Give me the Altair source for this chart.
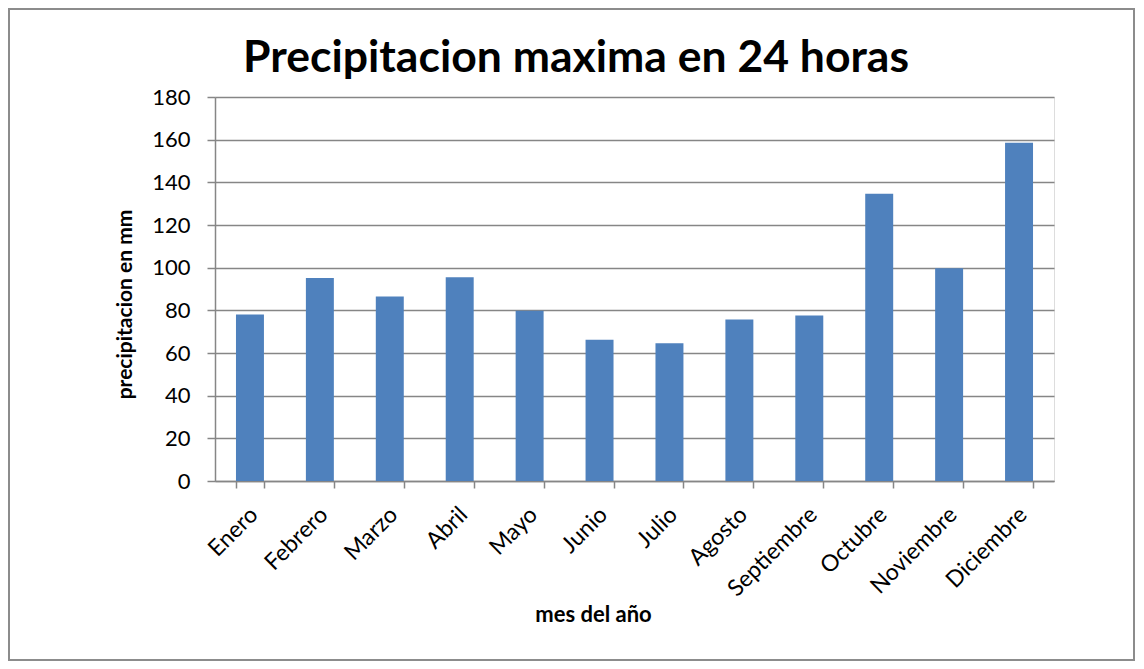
import altair as alt
import pandas as pd

meses = ["Enero", "Febrero", "Marzo", "Abril", "Mayo", "Junio", "Julio",
         "Agosto", "Septiembre", "Octubre", "Noviembre", "Diciembre"]
precip = [78.1, 95.1, 86.5, 95.5, 79.8, 66.2, 64.6, 75.7, 77.6, 134.6, 99.7, 158.5]
y_ticks = [0, 20, 40, 60, 80, 100, 120, 140, 160, 180]
titulo = "Precipitacion maxima en 24 horas"

df = pd.DataFrame({"mes": meses, "valor": precip})

FONT = "Lato"
GRAY = "#868686"

bars = alt.Chart(df).mark_bar(color="#4F81BD").encode(
    x=alt.X(
        "mes:N",
        sort=meses,
        scale=alt.Scale(paddingInner=0.6, paddingOuter=0.3),
        axis=alt.Axis(
            title="mes del año",
            labelAngle=-45,
            labelAlign="right",
            labelBaseline="top",
            labelFont=FONT,
            labelFontSize=23,
            labelColor="#000000",
            labelPadding=15,
            labelOffset=-4,
            tickBand="extent",
            tickSize=7,
            tickColor=GRAY,
            tickWidth=1.5,
            domainColor=GRAY,
            domainWidth=1.5,
            grid=False,
            titleFont=FONT,
            titleFontSize=22,
            titleFontWeight="bold",
            titleColor="#000000",
            titleX=378,
            titleY=140,
            titleAlign="center",
            titleBaseline="alphabetic",
            titleAnchor="start",
        ),
    ),
    y=alt.Y(
        "valor:Q",
        scale=alt.Scale(domain=[0, 180], nice=False),
        axis=alt.Axis(
            title="precipitacion en mm",
            values=y_ticks,
            labelFont=FONT,
            labelFontSize=22,
            labelColor="#000000",
            labelPadding=17,
            tickSize=8,
            tickColor=GRAY,
            tickWidth=1.5,
            domainColor=GRAY,
            domainWidth=1.5,
            grid=True,
            gridColor=GRAY,
            gridWidth=1.5,
            titleFont=FONT,
            titleFontSize=21,
            titleFontWeight="bold",
            titleColor="#000000",
            titleX=-90,
            titleY=207,
            titleAngle=-90,
            titleAlign="center",
            titleBaseline="middle",
            titleAnchor="start",
        ),
    ),
)

border = alt.Chart(alt.Data(values=[{}])).mark_rect(
    fill=None, stroke="#8c8c8c", strokeWidth=2
).encode(
    x=alt.value(-206),
    x2=alt.value(919),
    y=alt.value(-88),
    y2=alt.value(563),
)

title_text = alt.Chart(alt.Data(values=[{"t": titulo}])).mark_text(
    font=FONT, fontSize=44.5, fontWeight="bold", color="#000000",
    align="center", baseline="alphabetic",
).encode(
    text="t:N",
    x=alt.value(361),
    y=alt.value(-25),
)

chart = alt.layer(border, bars, title_text).properties(
    width=839,
    height=384,
    autosize=alt.AutoSizeParams(type="none"),
    padding={"left": 207, "top": 89, "right": 82, "bottom": 180},
).configure_view(stroke=None).configure(background="white")

chart.save("out.html", embed_options={"renderer": "svg", "actions": False})
